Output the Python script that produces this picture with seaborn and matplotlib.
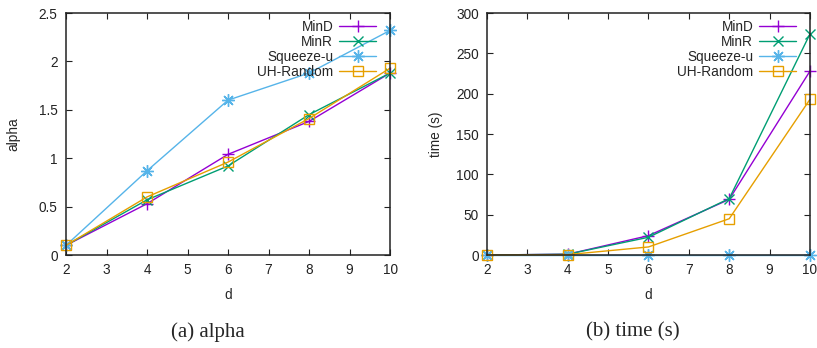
import pandas as pd
import seaborn as sns
import matplotlib.pyplot as plt
from matplotlib.ticker import FormatStrFormatter, MultipleLocator

# --- data ---
d_values = [2, 4, 6, 8, 10]
methods = ["MinD", "MinR", "Squeeze-u", "UH-Random"]

alpha_mind = [0.10, 0.53, 1.04, 1.38, 1.88]
alpha_minr = [0.10, 0.57, 0.92, 1.45, 1.88]
alpha_squeeze = [0.10, 0.87, 1.60, 1.88, 2.32]
alpha_uh = [0.10, 0.60, 0.96, 1.41, 1.93]

time_mind = [0.0, 1.0, 24.0, 69.0, 228.0]
time_minr = [0.0, 1.0, 22.0, 70.0, 274.0]
time_squeeze = [0.0, 0.0, 0.0, 0.0, 0.0]
time_uh = [0.0, 0.5, 10.0, 45.0, 193.0]

colors = {"MinD": "#9400d3", "MinR": "#009e73",
          "Squeeze-u": "#56b4e9", "UH-Random": "#e69f00"}
markers = {"MinD": "+", "MinR": "x", "Squeeze-u": (8, 2, 0), "UH-Random": "s"}
msizes = {"MinD": 9, "MinR": 7.5, "Squeeze-u": 9, "UH-Random": 7.5}

df_alpha = pd.DataFrame({"d": d_values * 4,
                         "value": alpha_mind + alpha_minr + alpha_squeeze + alpha_uh,
                         "method": [m for m in methods for _ in d_values]})
df_time = pd.DataFrame({"d": d_values * 4,
                        "value": time_mind + time_minr + time_squeeze + time_uh,
                        "method": [m for m in methods for _ in d_values]})

sns.set_theme(style="ticks")
plt.rcParams["font.family"] = ["Liberation Sans", "DejaVu Sans"]

fig = plt.figure(figsize=(8.17, 3.48), dpi=100)
ax1 = fig.add_axes([0.0808, 0.2672, 0.3966, 0.6954])
ax2 = fig.add_axes([0.5961, 0.2672, 0.3953, 0.6954])

FS = 9.8


def draw_panel(ax, df, ymax, ystep, ylabel, ylab_x):
    for m in methods:
        sub = df[df["method"] == m]
        sns.lineplot(data=sub, x="d", y="value", ax=ax, color=colors[m],
                     marker=markers[m], markersize=msizes[m],
                     markeredgecolor=colors[m], markerfacecolor="none",
                     markeredgewidth=1.0, linewidth=1.0, label=m,
                     clip_on=False)
    ax.set_xlim(2, 10)
    ax.set_ylim(0, ymax)
    ax.xaxis.set_major_locator(MultipleLocator(1))
    ax.yaxis.set_major_locator(MultipleLocator(ystep))
    ax.yaxis.set_major_formatter(FormatStrFormatter("%g"))
    ax.tick_params(direction="in", length=4, width=0.8, top=True, right=True,
                   labelsize=FS, colors="#222222")
    ax.tick_params(axis="x", pad=6)
    ax.tick_params(axis="y", pad=6)
    for sp in ax.spines.values():
        sp.set_linewidth(1.1)
        sp.set_color("#222222")
        sp.set_zorder(5)
    ax.set_xlabel("d", fontsize=FS)
    ax.set_ylabel(ylabel, fontsize=FS)
    ax.xaxis.set_label_coords(0.5, -0.135)
    ax.yaxis.set_label_coords(ylab_x, 0.5)

    # gnuplot-style key: label first, right-aligned, then the sample
    ax.legend(loc="upper right", bbox_to_anchor=(0.957, 0.972),
              frameon=False, fontsize=FS, markerfirst=False,
              handlelength=2.7, handletextpad=0.45, labelspacing=0.08,
              borderpad=0.0, borderaxespad=0.0)


draw_panel(ax1, df_alpha, 2.5, 0.5, "alpha", -0.142)
draw_panel(ax2, df_time, 300, 50, "time (s)", -0.136)

fig.text(0.255, 0.046, "(a) alpha", ha="center", va="center",
         fontsize=15, family=["Liberation Serif", "DejaVu Serif"])
fig.text(0.775, 0.046, "(b) time (s)", ha="center", va="center",
         fontsize=15, family=["Liberation Serif", "DejaVu Serif"])

fig.savefig("out.png", dpi=100)
